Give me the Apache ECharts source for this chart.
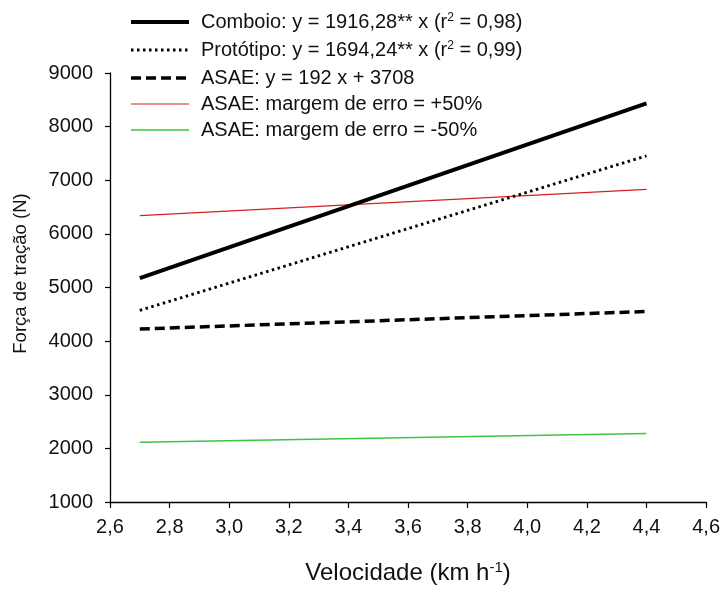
<!DOCTYPE html>
<html><head><meta charset="utf-8">
<script src="https://cdn.jsdelivr.net/npm/echarts@6/dist/echarts.min.js"></script>
<style>html,body{margin:0;padding:0;background:#fff}#c{width:723px;height:591px}</style>
</head><body><div id="c"></div>
<script>
var xValues = [2.7, 4.4];
var comboio = [5174, 8432];
var prototipo = [4574, 7455];
var asae = [4226, 4553];
var asaePlus = [6339, 6830];
var asaeMinus = [2113, 2277];
var xTicks = {min: 2.6, max: 4.6, interval: 0.2};
var yTicks = {min: 1000, max: 9000, interval: 1000};
var names = [
  'Comboio: y = 1916,28** x (r{sup|2} = 0,98)',
  'Protótipo: y = 1694,24** x (r{sup|2} = 0,99)',
  'ASAE: y = 192 x + 3708',
  'ASAE: margem de erro = +50%',
  'ASAE: margem de erro = -50%'
];
function pairs(ys){return xValues.map(function(x,i){return [x, ys[i]];});}
var font = 'Liberation Sans, Arial, sans-serif';
var chart = echarts.init(document.getElementById('c'));
var styles = [
  {color:'#000', width:4, type:'solid'},
  {color:'#000', width:3, type:[2.5,3.5]},
  {color:'#000', width:3.5, type:[10,5]},
  {color:'#d42020', width:1.2, type:'solid'},
  {color:'#3ec43e', width:1.5, type:'solid'}
];
var data = [comboio, prototipo, asae, asaePlus, asaeMinus];
chart.setOption({
  animation:false,
  backgroundColor:'#fff',
  grid:{left:110, right:15, top:73, bottom:89, containLabel:false},
  legend:{
    orient:'vertical', left:124, top:7, itemWidth:58, itemHeight:14, itemGap:6,
    itemStyle:{color:'rgba(0,0,0,0)', borderWidth:0, opacity:0},
    textStyle:{fontFamily:font, fontSize:20, color:'#111', lineHeight:20, padding:[0,0,0,7],
      rich:{sup:{fontSize:12, verticalAlign:'top', lineHeight:20, padding:[0,0,10,0], fontFamily:font, color:'#111'}}},
    data: names.map(function(n,i){
      return {name:n, lineStyle:{width:styles[i].width, type:styles[i].type, color:styles[i].color}};
    })
  },
  xAxis:{
    type:'value', min:xTicks.min, max:xTicks.max, interval:xTicks.interval,
    name:'Velocidade (km h{sup|-1})', nameLocation:'middle', nameGap:58,
    nameTextStyle:{fontFamily:font, fontSize:24, color:'#111',
      rich:{sup:{fontSize:15, verticalAlign:'top', padding:[0,0,12,0], fontFamily:font, color:'#111'}}},
    axisLine:{lineStyle:{color:'#000', width:1.3}},
    axisTick:{inside:false, length:6, lineStyle:{color:'#000', width:1.2}},
    axisLabel:{fontFamily:font, fontSize:20, color:'#111', margin:15,
      formatter:function(v){return v.toFixed(1).replace('.', ',');}},
    splitLine:{show:false}
  },
  yAxis:{
    type:'value', min:yTicks.min, max:yTicks.max, interval:yTicks.interval,
    name:'Força de tração (N)', nameLocation:'middle', nameGap:80,
    nameTextStyle:{fontFamily:font, fontSize:18.5, color:'#111', padding:[0,0,0,28]},
    axisLine:{show:true, lineStyle:{color:'#000', width:1.3}},
    axisTick:{show:true, inside:false, length:5, lineStyle:{color:'#000', width:1.2}},
    axisLabel:{fontFamily:font, fontSize:20, color:'#111', margin:17,
      formatter:function(v){return String(v);}},
    splitLine:{show:false}
  },
  series: names.map(function(n,i){
    return {name:n, type:'line', data:pairs(data[i]), symbol:'none', showSymbol:false,
      lineStyle:styles[i], itemStyle:{color:styles[i].color}, z: 10-i};
  })
});
</script></body></html>
